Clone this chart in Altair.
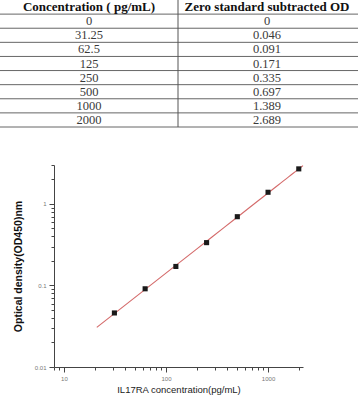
import altair as alt
import pandas as pd

# ---- data ----
header = ["Concentration ( pg/mL)", "Zero standard subtracted OD"]
conc_labels = ["0", "31.25", "62.5", "125", "250", "500", "1000", "2000"]
od_labels = ["0", "0.046", "0.091", "0.171", "0.335", "0.697", "1.389", "2.689"]

conc = [31.25, 62.5, 125, 250, 500, 1000, 2000]
od = [0.046, 0.091, 0.171, 0.335, 0.697, 1.389, 2.689]

x_ticks = [8, 9, 10, 20, 30, 40, 50, 60, 70, 80, 90, 100, 200, 300, 400, 500,
           600, 700, 800, 900, 1000, 2000]
x_major = [10, 100, 1000]
y_ticks = [0.01, 0.02, 0.03, 0.04, 0.05, 0.06, 0.07, 0.08, 0.09, 0.1, 0.2, 0.3,
           0.4, 0.5, 0.6, 0.7, 0.8, 0.9, 1, 2, 3]
y_major = [0.01, 0.1, 1]

x_title = "IL17RA concentration(pg/mL)"
y_title = "Optical  density(OD450)nm"

# ---- table ----
cells = [{"row": 0.5, "col": 0.5, "text": header[0], "kind": "head"},
         {"row": 0.5, "col": 1.5, "text": header[1], "kind": "head"}]
for i, (c, o) in enumerate(zip(conc_labels, od_labels)):
    cells.append({"row": i + 1.5, "col": 0.5, "text": c, "kind": "body"})
    cells.append({"row": i + 1.5, "col": 1.5, "text": o, "kind": "body"})
cells_df = pd.DataFrame(cells)
hlines = pd.DataFrame({"row": list(range(1, len(conc_labels) + 2))})
vline = pd.DataFrame({"col": [1], "r0": [0], "r1": [len(conc_labels) + 1]})

tx = alt.Scale(domain=[0, 2], range=[0, 356])
ty = alt.Scale(domain=[0, len(conc_labels) + 1], range=[0, 127])

head_text = alt.Chart(cells_df).transform_filter("datum.kind == 'head'").mark_text(
    font="Liberation Serif", fontSize=13, fontWeight="bold", color="#111"
).encode(x=alt.X("col:Q", scale=tx, axis=None), y=alt.Y("row:Q", scale=ty, axis=None), text="text:N")

body_text = alt.Chart(cells_df).transform_filter("datum.kind == 'body'").mark_text(
    font="Liberation Serif", fontSize=12.5, color="#3a3a3a"
).encode(x=alt.X("col:Q", scale=tx, axis=None), y=alt.Y("row:Q", scale=ty, axis=None), text="text:N")

h_rules = alt.Chart(hlines).mark_rule(color="#666", strokeWidth=1).encode(
    y=alt.Y("row:Q", scale=ty, axis=None), x=alt.value(0), x2=alt.value(358))

v_rule = alt.Chart(vline).mark_rule(color="#555", strokeWidth=1).encode(
    x=alt.X("col:Q", scale=tx, axis=None), y=alt.Y("r0:Q", scale=ty, axis=None), y2="r1:Q")

table = alt.layer(h_rules, v_rule, head_text, body_text)

# ---- plot ----
pts = pd.DataFrame({"conc": conc, "od": od})
xs = alt.Scale(type="log", domain=[8, 2200], range=[54, 303], nice=False)
ys = alt.Scale(type="log", domain=[0.01, 3], range=[367, 165], nice=False)

xmaj = "indexof(%s, datum.value) >= 0" % str(x_major)
ymaj = "indexof(%s, datum.value) >= 0" % str(y_major)

x_axis = alt.Axis(
    values=x_ticks, labelExpr=xmaj + " ? datum.label : ''", format="~g",
    tickSize={"condition": {"test": xmaj, "value": 5}, "value": 3},
    offset=-33, grid=False, title=x_title, titleFont="Liberation Sans",
    titleFontSize=9.5, titleFontWeight="normal", titleColor="#222", titlePadding=3,
    labelFont="Liberation Sans", labelFontSize=6, labelColor="#777", labelPadding=3,
    domainColor="#444", tickColor="#444", labelFlush=False)
y_axis = alt.Axis(
    values=y_ticks, labelExpr=ymaj + " ? datum.label : ''", format="~g",
    tickSize={"condition": {"test": ymaj, "value": 5}, "value": 3},
    offset=-54, grid=False, title=y_title, titleFont="Liberation Sans",
    titleFontSize=10.5, titleFontWeight="bold", titleColor="#111", titlePadding=11,
    labelFont="Liberation Sans", labelFontSize=6, labelColor="#777", labelPadding=3,
    domainColor="#444", tickColor="#444", labelFlush=False)

fit = alt.Chart(pts).transform_regression(
    "conc", "od", method="pow", extent=[21, 2200]
).mark_line(color="#d46a6a", strokeWidth=1.1).encode(
    x=alt.X("conc:Q", scale=xs, axis=x_axis), y=alt.Y("od:Q", scale=ys, axis=y_axis))

dots = alt.Chart(pts).mark_square(size=26, color="#1a1a1a", opacity=1).encode(
    x=alt.X("conc:Q", scale=xs, axis=x_axis), y=alt.Y("od:Q", scale=ys, axis=y_axis))

plot = alt.layer(fit, dots)

chart = alt.layer(table, plot).resolve_scale(x="independent", y="independent").properties(
    width=358, height=400, autosize="none", padding=0, background="white"
).configure_view(stroke=None)

chart.save("out.html", embed_options={"renderer": "svg", "actions": False})
